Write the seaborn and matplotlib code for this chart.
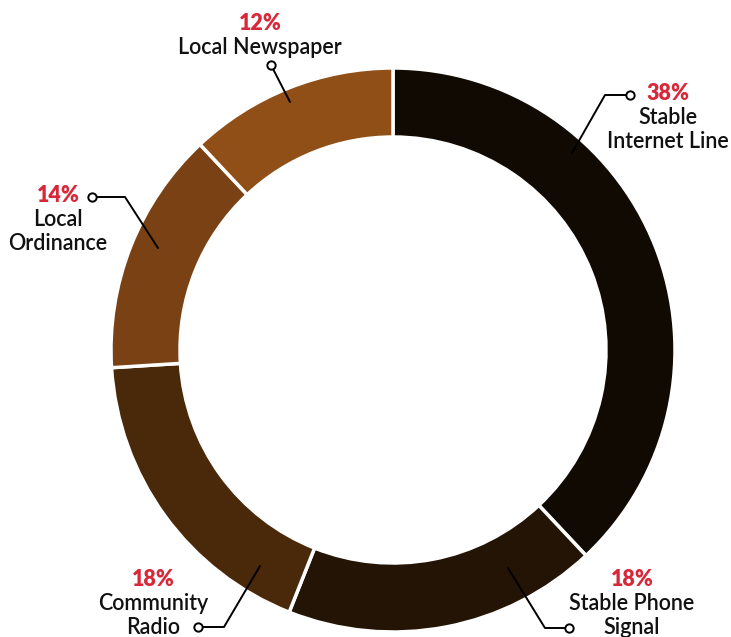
"""
Donut chart: channels people rely on for information.
"""

import matplotlib.pyplot as plt
import seaborn as sns

# ──────────────────────────────────────────────
# Data
# ──────────────────────────────────────────────

labels = ["Stable\nInternet Line", "Stable Phone\nSignal", "Community\nRadio",
          "Local\nOrdinance", "Local Newspaper"]
shares = [38, 18, 18, 14, 12]
colors = ["#110a02", "#241405", "#4a290a", "#7a4214", "#8f4f17"]

# ──────────────────────────────────────────────
# Layout (pixel coordinates, y measured from the top)
# ──────────────────────────────────────────────

W, H = 731, 637
CENTER = (393, 350)
R_OUTER = 282
RING = 69

# text centre (x, y of the percent line) and leader polyline anchor -> elbow -> end
label_layout = [
    {"text": (668, 94), "leader": [(572, 153), (605, 95), (630, 95)]},
    {"text": (632, 580), "leader": [(508, 568), (545, 628), (569, 628)]},
    {"text": (153, 580), "leader": [(260, 566), (224, 627), (198, 627)]},
    {"text": (58, 196), "leader": [(158, 248), (125, 197), (92, 197)]},
    {"text": (260, 24), "leader": [(290, 102), (271, 65)]},
]
LINE_STEP = 24
PCT_COLOR = "#d7283a"
FONT_SIZE = 15.5


def px(x, y):
    """Convert top-left pixel coordinates to data coordinates (y up)."""
    return x, H - y


# ──────────────────────────────────────────────
# Plot
# ──────────────────────────────────────────────

sns.set_theme(style="white")
plt.rcParams["font.family"] = ["Lato", "DejaVu Sans"]

fig = plt.figure(figsize=(W / 100, H / 100), dpi=100)
ax = fig.add_axes([0, 0, 1, 1])

ax.pie(
    shares,
    colors=colors,
    startangle=90,
    counterclock=False,
    center=px(*CENTER),
    radius=R_OUTER,
    wedgeprops={"width": RING, "edgecolor": "white", "linewidth": 2.5},
)

for label, share, lay in zip(labels, shares, label_layout):
    tx, ty = lay["text"]
    ax.text(*px(tx, ty), f"{share}%", ha="center", va="center",
            fontsize=FONT_SIZE, fontweight="heavy", color=PCT_COLOR)
    for i, line in enumerate(label.split("\n")):
        ax.text(*px(tx, ty + LINE_STEP * (i + 1)), line, ha="center", va="center",
                fontsize=FONT_SIZE, fontweight="semibold", color="#111111")

    pts = [px(x, y) for x, y in lay["leader"]]
    xs, ys = zip(*pts)
    ax.plot(xs, ys, color="black", lw=1.4, solid_capstyle="round")
    ax.plot(xs[-1], ys[-1], marker="o", ms=6, mfc="white", mec="black", mew=1.4)

ax.set_xlim(0, W)
ax.set_ylim(0, H)
ax.set_aspect("auto")
ax.axis("off")

fig.savefig("out.png", dpi=100, facecolor="white")
